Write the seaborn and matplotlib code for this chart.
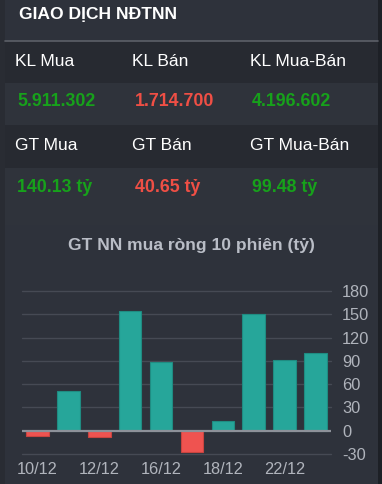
import matplotlib
matplotlib.use("Agg")
import matplotlib.pyplot as plt
import seaborn as sns
import pandas as pd
from matplotlib.patches import Rectangle

sns.set_theme(style="dark")
plt.rcParams['font.family'] = ['Liberation Sans', 'DejaVu Sans']

# ---- data ----
dates = ["10/12", "11/12", "12/12", "15/12", "16/12", "17/12", "18/12", "19/12", "22/12", "23/12"]
net_values = [-6.5, 51.7, -8.6, 153.9, 87.9, -27.2, 12.5, 150.5, 91.0, 100.0]
shown_ticks = ["10/12", "12/12", "16/12", "18/12", "22/12"]

kl_labels = ["KL Mua", "KL Bán", "KL Mua-Bán"]
kl_values = ["5.911.302", "1.714.700", "4.196.602"]
gt_labels = ["GT Mua", "GT Bán", "GT Mua-Bán"]
gt_values = ["140.13 tỷ", "40.65 tỷ", "99.48 tỷ"]
value_kind = ["buy", "sell", "net"]

title = "GIAO DỊCH NĐTNN"
chart_title = "GT NN mua ròng 10 phiên (tỷ)"

# ---- figure ----
W, H = 382, 484
DPI = 100
BG = "#2e323b"
fig = plt.figure(figsize=(W / DPI, H / DPI), dpi=DPI, facecolor=BG)

def px_rect(x0, y0, x1, y1, color, z=0):
    fig.patches.append(Rectangle((x0 / W, 1 - y1 / H), (x1 - x0) / W, (y1 - y0) / H,
                                 transform=fig.transFigure, facecolor=color,
                                 edgecolor="none", zorder=z))

# bands
px_rect(0, 41, W, 83, "#272a31")
px_rect(0, 83, W, 125, "#2f333b")
px_rect(0, 125, W, 168, "#272a31")
px_rect(0, 168, W, 225, "#2f333b")
px_rect(0, 0, 5, H, "#292c33")
px_rect(378, 0, W, H, "#1d2026")
# separator line
fig.lines.append(plt.Line2D([5 / W, 378 / W], [1 - 40.5 / H] * 2, transform=fig.transFigure,
                            color="#5c6068", lw=1.2))

def ftext(x, y, s, **kw):
    fig.text(x / W, 1 - y / H, s, **kw)

ftext(19, 15, title, color="white", fontsize=12.6, fontweight="bold", va="center", ha="left")

col_x = [15, 132, 250]
val_x = [17, 135, 252]
colors = {"buy": "#17a11b", "sell": "#ef4f45", "net": "#17a11b"}
for i in range(3):
    ftext(col_x[i], 61, kl_labels[i], color="white", fontsize=12.5, va="center")
    ftext(val_x[i], 102, kl_values[i], color=colors[value_kind[i]], fontsize=12.8,
          fontweight="bold", va="center")
    ftext(col_x[i], 146, gt_labels[i], color="white", fontsize=12.5, va="center")
    ftext(val_x[i], 188, gt_values[i], color=colors[value_kind[i]], fontsize=12.8,
          fontweight="bold", va="center")

ftext(191, 245, chart_title, color="#b9bdc6", fontsize=12.6, fontweight="bold",
      va="center", ha="center")

# ---- chart ----
ax_left, ax_right = 22, 331
ax_top, ax_bot = 291, 454
ax = fig.add_axes([ax_left / W, 1 - ax_bot / H, (ax_right - ax_left) / W, (ax_bot - ax_top) / H])
ax.set_facecolor("none")

df = pd.DataFrame({"date": dates, "value": net_values})
df["sign"] = ["pos" if v >= 0 else "neg" for v in net_values]
sns.barplot(data=df, x="date", y="value", hue="sign", order=dates,
            palette={"pos": "#26a69a", "neg": "#ef5350"}, dodge=False, width=0.73,
            saturation=1, ax=ax, legend=False, linewidth=0, zorder=3)
for p in ax.patches:
    fc = p.get_facecolor()
    p.set_edgecolor("#1f8c82" if fc[1] > 0.5 else "#c9443f")
    p.set_linewidth(0.8)

ax.set_xlim(-0.5, len(dates) - 0.5)
ax.set_ylim(-30, 180)
yt = [-30, 0, 30, 60, 90, 120, 150, 180]
ax.set_yticks(yt)
ax.set_yticklabels([str(v) for v in yt])
ax.yaxis.tick_right()
ax.tick_params(axis="y", length=0, pad=8, labelsize=11.8, labelcolor="#b0b4bc")
ax.tick_params(axis="x", length=0, pad=6, labelsize=11.8, labelcolor="#b0b4bc")
ax.set_xticks([dates.index(d) for d in shown_ticks])
ax.set_xticklabels(shown_ticks)
ax.grid(False)
for v in yt:
    if v != 0:
        ax.axhline(v, color="#464a54", lw=1, zorder=1, clip_on=False)
ax.axhline(0, color="#8d9199", lw=1.6, zorder=4)
for s in ax.spines.values():
    s.set_visible(False)
ax.set_xlabel("")
ax.set_ylabel("")

fig.savefig("out.png", dpi=DPI, facecolor=BG)
